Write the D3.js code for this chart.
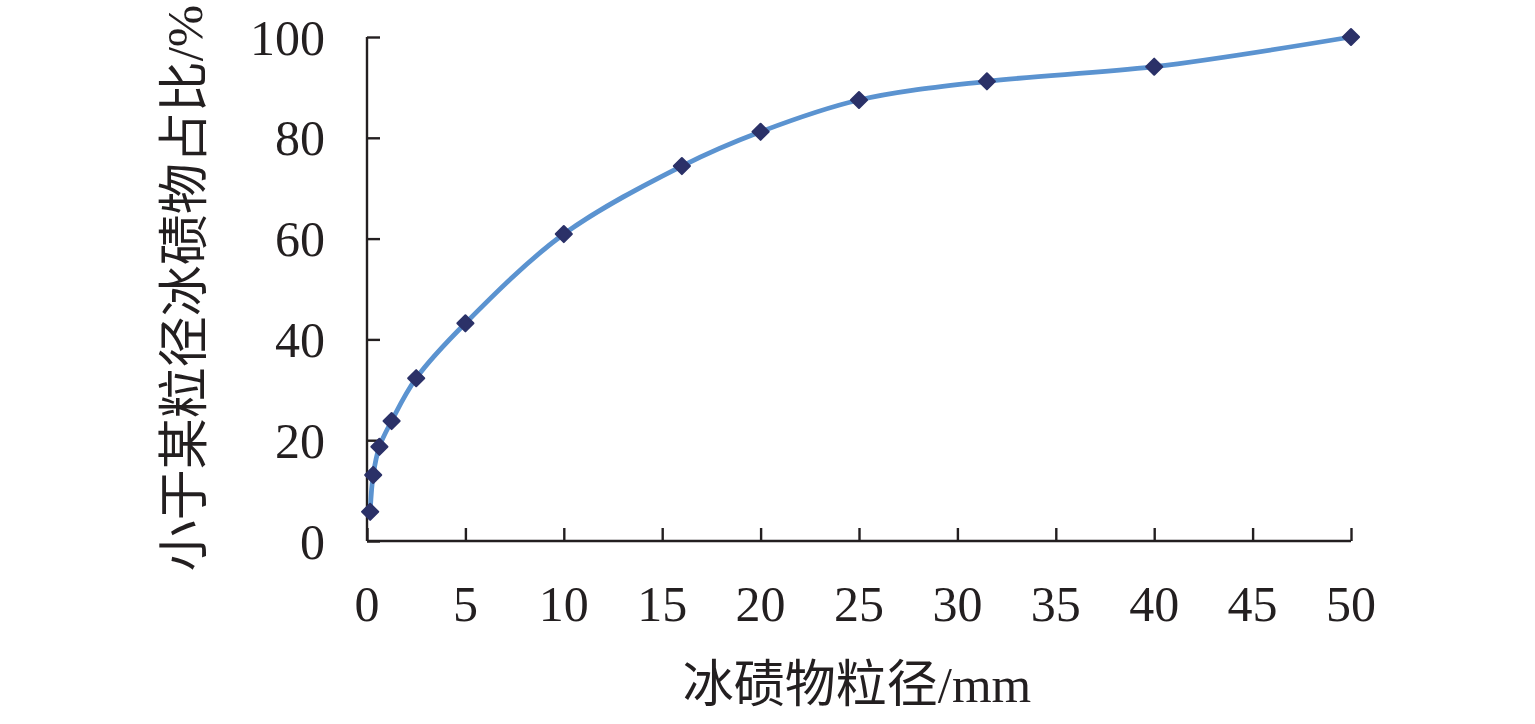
<!DOCTYPE html>
<html><head><meta charset="utf-8">
<script src="https://cdn.jsdelivr.net/npm/d3@7"></script>
<style>
html,body{margin:0;padding:0;background:#fff;}
svg text{font-family:"Liberation Serif","Times New Roman","Noto Sans CJK SC",serif;fill:#231f20;}
</style></head>
<body>
<svg id="chart" width="1535" height="724"></svg>
<script>
const grainSize = [0.16, 0.315, 0.63, 1.25, 2.5, 5, 10, 16, 20, 25, 31.5, 40, 50];
const passingPct = [5.8, 13.1, 18.7, 23.8, 32.3, 43.2, 60.9, 74.4, 81.2, 87.5, 91.2, 94.1, 100];
const xTicks = [0, 5, 10, 15, 20, 25, 30, 35, 40, 45, 50];
const yTicks = [0, 20, 40, 60, 80, 100];
const xTitle = "冰碛物粒径/mm";
const yTitle = "小于某粒径冰碛物占比/%";

const svg = d3.select("#chart");
const x = d3.scaleLinear().domain([0, 50]).range([367, 1351]);
const y = d3.scaleLinear().domain([0, 100]).range([541, 37]);

const axisColor = "#231f20";
// X axis, ticks inward (up)
const gx = svg.append("g").attr("transform", `translate(0,${y(0)})`)
  .call(d3.axisTop(x).tickValues(xTicks).tickSize(13).tickFormat(""));
gx.select(".domain").attr("d", `M${x(0)},0H${x(50)}`);
gx.selectAll("path,line").attr("stroke", axisColor).attr("stroke-width", 2.4);
svg.append("g").selectAll("text").data(xTicks).join("text")
  .attr("x", d => x(d)).attr("y", 621)
  .attr("text-anchor", "middle").attr("font-size", 50).text(d => d);

// Y axis, ticks inward (right)
const gy = svg.append("g").attr("transform", `translate(${x(0)},0)`)
  .call(d3.axisRight(y).tickValues(yTicks).tickSize(13).tickFormat(""));
gy.select(".domain").attr("d", `M0,${y(0)}V${y(100)}`);
gy.selectAll("path,line").attr("stroke", axisColor).attr("stroke-width", 2.4);
svg.append("g").selectAll("text").data(yTicks).join("text")
  .attr("x", 325).attr("y", d => y(d))
  .attr("dy", "0.35em")
  .attr("text-anchor", "end").attr("font-size", 50).text(d => d);

// Titles
svg.append("text").attr("x", 857).attr("y", 702).attr("text-anchor", "middle")
  .attr("font-size", 51).text(xTitle);
svg.append("text").attr("transform", `translate(202,288) rotate(-90)`)
  .attr("text-anchor", "middle").attr("font-size", 51).text(yTitle);

// Data
const pts = grainSize.map((g, i) => [g, passingPct[i]]);
const line = d3.line().x(d => x(d[0])).y(d => y(d[1])).curve(d3.curveCatmullRom.alpha(0.5));
svg.append("path").datum(pts).attr("d", line)
  .attr("fill", "none").attr("stroke", "#5b93d0").attr("stroke-width", 4.8)
  .attr("stroke-linejoin", "round").attr("stroke-linecap", "round");

svg.append("g").selectAll("path").data(pts).join("path")
  .attr("transform", d => `translate(${x(d[0])},${y(d[1])}) rotate(45)`)
  .attr("d", d3.symbol().type(d3.symbolSquare).size(130)())
  .attr("fill", "#2b3168").attr("stroke", "#2b3168").attr("stroke-width", 2)
  .attr("stroke-linejoin", "round");
</script>
</body></html>
